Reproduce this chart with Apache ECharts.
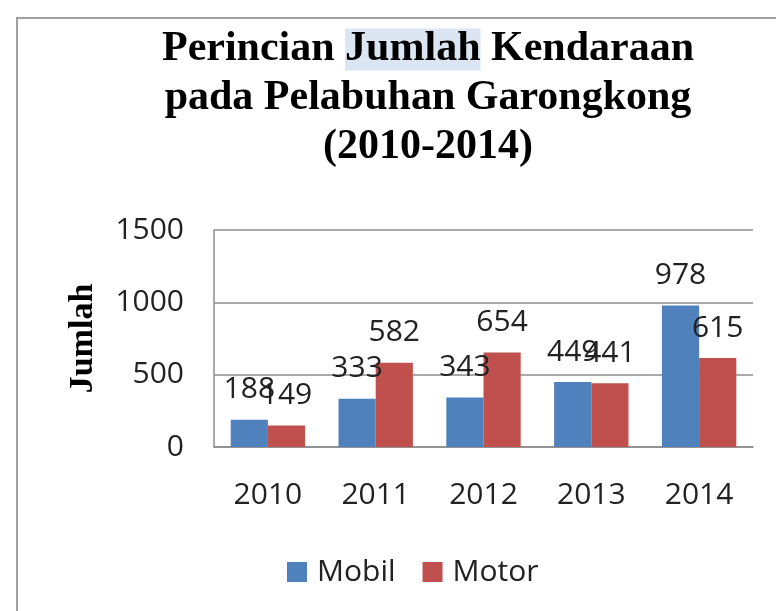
<!DOCTYPE html>
<html><head><meta charset="utf-8">
<script src="https://cdn.jsdelivr.net/npm/echarts@6/dist/echarts.min.js"></script>
<style>html,body{margin:0;padding:0;background:#fff}#c{width:776px;height:611px}</style>
</head><body><div id="c"></div>
<script>
const categories = ['2010','2011','2012','2013','2014'];
const mobil = [188, 333, 343, 449, 978];
const motor = [149, 582, 654, 441, 615];
const seriesNames = ['Mobil','Motor'];

const chart = echarts.init(document.getElementById('c'));
const labelStyle = { show: true, position: 'top', distance: 15, fontSize: 30, fontFamily: 'Open Sans', color: '#222' };
chart.setOption({
  animation: false,
  graphic: [{ type: 'rect', shape: { x: 17, y: 18, width: 800, height: 700 }, style: { fill: 'none', stroke: '#a0a0a0', lineWidth: 2 } }],
  title: {
    left: 423, top: 20, textAlign: 'center',
    text: 'Perincian {h|Jumlah} Kendaraan\npada Pelabuhan Garongkong\n(2010-2014)',
    textStyle: {
      fontFamily: 'Liberation Serif', fontWeight: 'bold', fontSize: 42, lineHeight: 49, color: '#000',
      rich: { h: { fontFamily: 'Liberation Serif', fontWeight: 'bold', fontSize: 42, lineHeight: 49, color: '#000', backgroundColor: '#DCE6F2' } }
    }
  },
  grid: { left: 214, right: 23, top: 230, bottom: 164 },
  legend: {
    left: 282, top: 552, itemWidth: 20, itemHeight: 20, itemGap: 27, icon: 'rect',
    textStyle: { fontSize: 30, fontFamily: 'Open Sans', color: '#222', padding: [0, 0, 0, 5] },
    data: seriesNames
  },
  xAxis: {
    type: 'category', data: categories,
    axisLine: { lineStyle: { color: '#8c8c8c', width: 1.5 } },
    axisTick: { show: false },
    axisLabel: { fontSize: 30, fontFamily: 'Open Sans', color: '#222', margin: 33 }
  },
  yAxis: {
    type: 'value', min: 0, max: 1500, interval: 500,
    name: 'Jumlah', nameLocation: 'middle', nameGap: 114, nameRotate: 90,
    nameTextStyle: { fontFamily: 'Liberation Serif', fontWeight: 'bold', fontSize: 34, color: '#000' },
    axisLine: { show: true, lineStyle: { color: '#8c8c8c', width: 1.5 } },
    axisTick: { show: false },
    splitLine: { lineStyle: { color: '#8c8c8c', width: 1.5 } },
    axisLabel: { fontSize: 30, fontFamily: 'Open Sans', color: '#222', margin: 30, formatter: v => String(v) }
  },
  series: [
    { name: seriesNames[0], type: 'bar', data: mobil, barGap: '0%', barCategoryGap: '31%', itemStyle: { color: '#4F81BD' }, label: labelStyle },
    { name: seriesNames[1], type: 'bar', data: motor, barGap: '0%', barCategoryGap: '31%', itemStyle: { color: '#C0504D' }, label: labelStyle }
  ]
});
</script></body></html>
